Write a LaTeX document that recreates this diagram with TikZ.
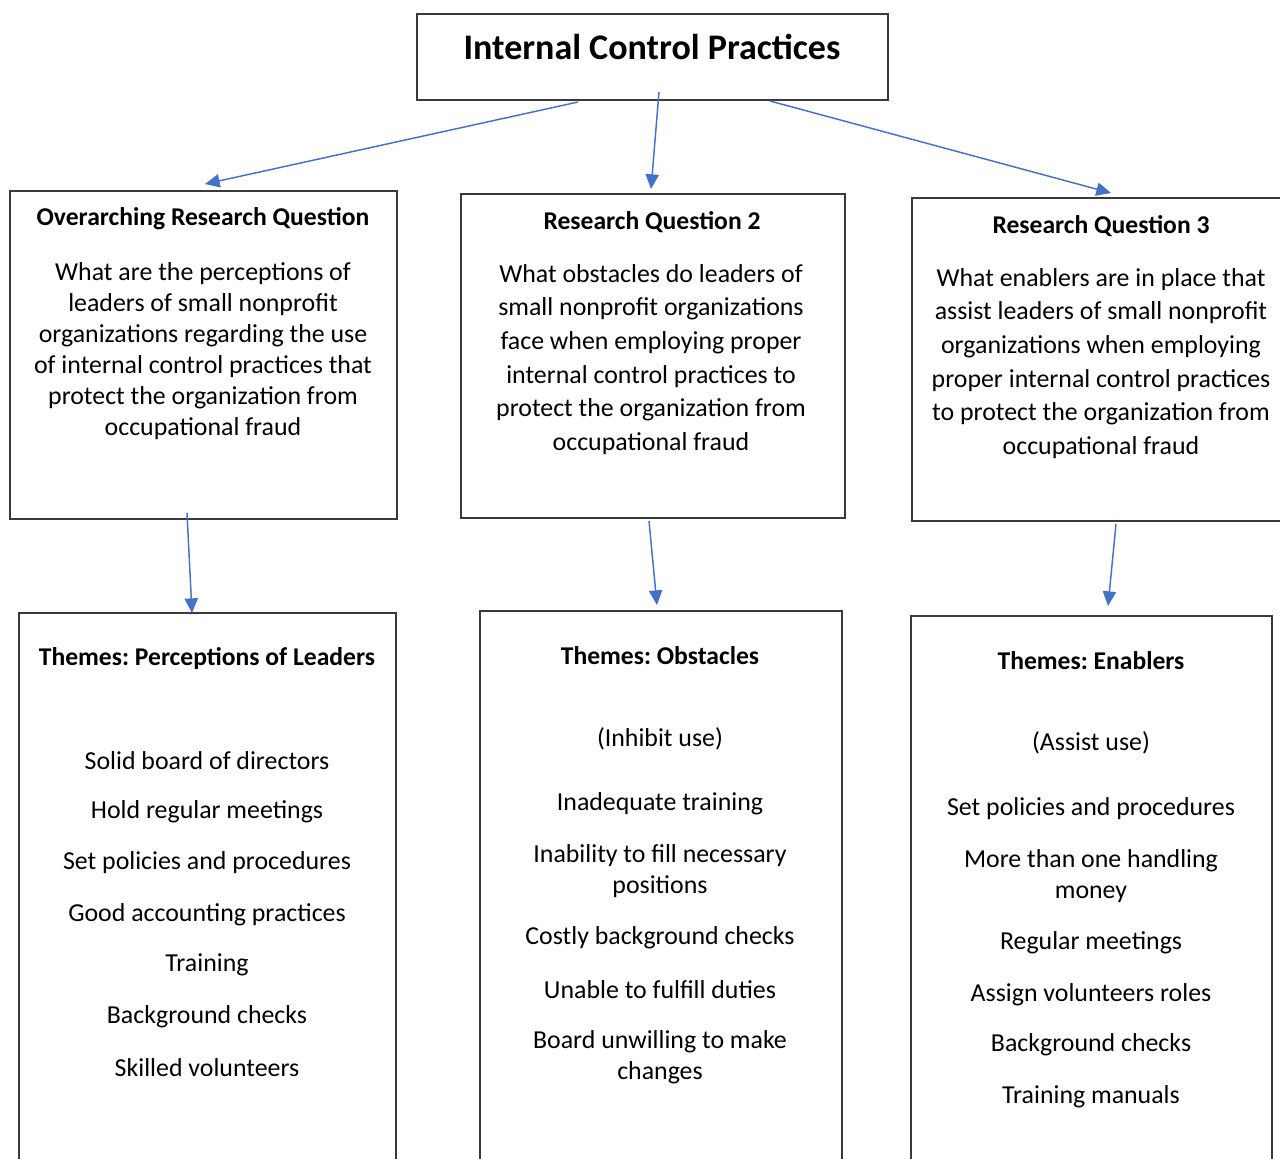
\documentclass[tikz,border=0pt]{standalone}
\usepackage{fontspec}
\setmainfont{Carlito}
\usetikzlibrary{arrows.meta}
\frenchspacing
\definecolor{arrowblue}{HTML}{4472C4}
\definecolor{boxline}{HTML}{3A3A3A}
\tikzset{
  boxrect/.style={draw=boxline, line width=1.1pt},
  conn/.style={draw=arrowblue, line width=1.1pt, -{Triangle[length=11pt,width=10pt]}},
  ttl/.style={font=\fontsize{27pt}{31pt}\selectfont\bfseries, inner sep=0pt},
  hd/.style={font=\fontsize{19.2pt}{23pt}\selectfont\bfseries, inner sep=0pt},
  bodyA/.style={font=\fontsize{19.4pt}{23.3pt}\selectfont, align=center, inner sep=0pt},
  bodyB/.style={font=\fontsize{19.4pt}{25.2pt}\selectfont, align=center, inner sep=0pt},
  item/.style={font=\fontsize{19.4pt}{23.3pt}\selectfont, align=center, inner sep=0pt},
}
\begin{document}
\begin{tikzpicture}[x=0.75pt,y=-0.75pt]
\useasboundingbox (0,0) rectangle (1280,1158);
\fill[white] (0,0) rectangle (1280,1158);
\clip (0,0) rectangle (1280,1158);
% boxes
\draw[boxrect] (417,14) rectangle (888,100);
\draw[boxrect] (10,191) rectangle (397,519);
\draw[boxrect] (461,194) rectangle (845,518);
\draw[boxrect] (912,198) rectangle (1300,521);
\draw[boxrect] (19,1180) -- (19,613) -- (396,613) -- (396,1180);
\draw[boxrect] (480,1180) -- (480,611) -- (842,611) -- (842,1180);
\draw[boxrect] (911,1180) -- (911,616) -- (1272,616) -- (1272,1180);
% title
\node[ttl] (title) at (652,47) {Internal Control Practices};
% research questions
\node[hd] (h1) at (203,219) {Overarching Research Question};
\node[bodyA, anchor=north] (b1) at (203,262) {What are the perceptions of\\leaders of small nonprofit\\organizations regarding the use\\of internal control practices that\\protect the organization from\\occupational fraud};
\node[hd] (h2) at (652,222) {Research Question 2};
\node[bodyB, anchor=north] (b2) at (651,264) {What obstacles do leaders of\\small nonprofit organizations\\face when employing proper\\internal control practices to\\protect the organization from\\occupational fraud};
\node[hd] (h3) at (1101,226) {Research Question 3};
\node[bodyB, anchor=north] (b3) at (1101,268) {What enablers are in place that\\assist leaders of small nonprofit\\organizations when employing\\proper internal control practices\\to protect the organization from\\occupational fraud};
% themes 1
\node[hd] (t1) at (207,658) {Themes: Perceptions of Leaders};
\node[item] (p1) at (207,761) {Solid board of directors};
\node[item] (p2) at (207,812) {Hold regular meetings};
\node[item] (p3) at (207,863) {Set policies and procedures};
\node[item] (p4) at (207,915) {Good accounting practices};
\node[item] (p5) at (207,965) {Training};
\node[item] (p6) at (207,1017) {Background checks};
\node[item] (p7) at (207,1068) {Skilled volunteers};
% themes 2
\node[hd] (t2) at (660,656) {Themes: Obstacles};
\node[item] (o0) at (660,739) {(Inhibit use)};
\node[item] (o1) at (660,804) {Inadequate training};
\node[item] (o2) at (660,871) {Inability to fill necessary\\positions};
\node[item] (o3) at (660,938) {Costly background checks};
\node[item] (o4) at (660,990) {Unable to fulfill duties};
\node[item] (o5) at (660,1057) {Board unwilling to make\\changes};
% themes 3
\node[hd] (t3) at (1091,661) {Themes: Enablers};
\node[item] (e0) at (1091,743) {(Assist use)};
\node[item] (e1) at (1091,809) {Set policies and procedures};
\node[item] (e2) at (1091,876) {More than one handling\\money};
\node[item] (e3) at (1091,943) {Regular meetings};
\node[item] (e4) at (1091,995) {Assign volunteers roles};
\node[item] (e5) at (1091,1045) {Background checks};
\node[item] (e6) at (1091,1097) {Training manuals};
% connector end points
\coordinate (s1) at (578,102);
\coordinate (e1a) at (205,184);
\coordinate (s2) at (659,92);
\coordinate (e2a) at (651,189);
\coordinate (s3) at (770,101);
\coordinate (e3a) at (1111,193);
\coordinate (s4) at (187,513);
\coordinate (e4a) at (192,613);
\coordinate (s5) at (649,521);
\coordinate (e5a) at (657,605);
\coordinate (s6) at (1116,524);
\coordinate (e6a) at (1108,606);
\draw[conn] (s1) -- (e1a);
\draw[conn] (s2) -- (e2a);
\draw[conn] (s3) -- (e3a);
\draw[conn] (s4) -- (e4a);
\draw[conn] (s5) -- (e5a);
\draw[conn] (s6) -- (e6a);
\end{tikzpicture}
\end{document}
